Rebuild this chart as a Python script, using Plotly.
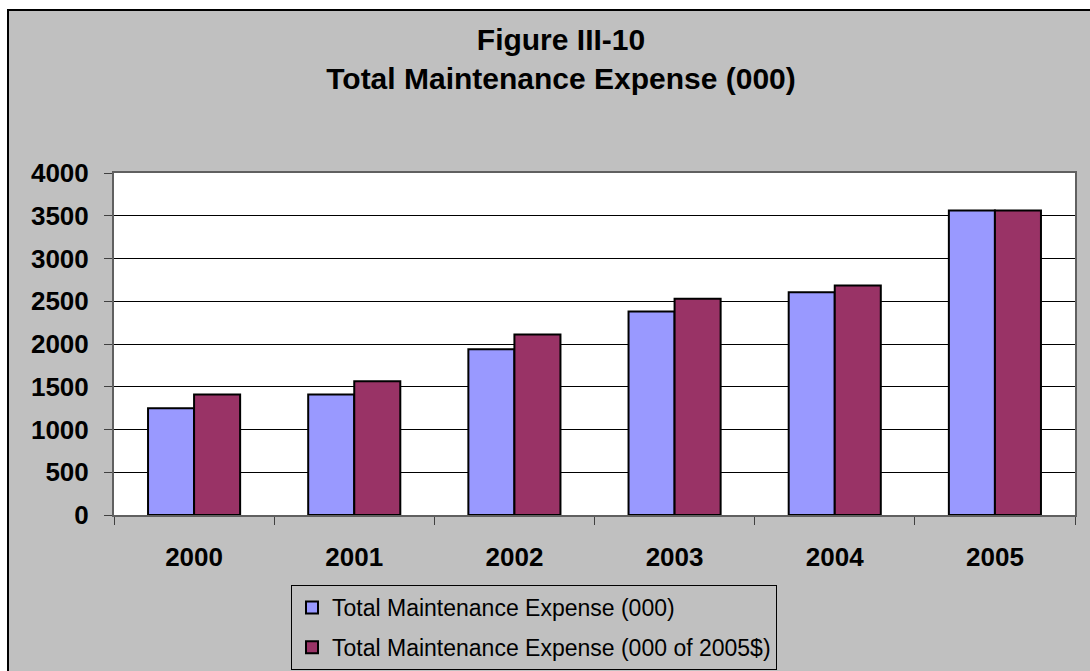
import plotly.graph_objects as go

# Maintenance expense by year, in thousands
years = ["2000", "2001", "2002", "2003", "2004", "2005"]
expense_nominal = [1250, 1410, 1940, 2380, 2605, 3560]
expense_2005_dollars = [1410, 1565, 2110, 2530, 2685, 3560]
series_names = [
    "Total Maintenance Expense (000)",
    "Total Maintenance Expense (000 of 2005$)",
]
y_ticks = [0, 500, 1000, 1500, 2000, 2500, 3000, 3500, 4000]

FONT = "Arial, Liberation Sans, sans-serif"
W, H = 1090, 671
L, R, T, B = 114, 15, 173, 156

fig = go.Figure()
fig.add_trace(go.Bar(
    x=years, y=expense_nominal, name=series_names[0],
    marker=dict(color="#9999FF", line=dict(color="black", width=2)),
    legendgroup="a",
))
fig.add_trace(go.Bar(
    x=years, y=expense_2005_dollars, name=series_names[1],
    marker=dict(color="#993366", line=dict(color="black", width=2)),
    legendgroup="b",
))

pw = W - L - R
ph = H - T - B


def px_x(x):
    return (x - L) / pw


def px_y(y):
    return (H - B - y) / ph


fig.update_layout(
    width=W, height=H,
    margin=dict(l=L, r=R, t=T, b=B, autoexpand=False),
    paper_bgcolor="#C0C0C0",
    plot_bgcolor="white",
    barmode="group",
    bargap=0.425,
    bargroupgap=0,
    font=dict(family=FONT, color="black"),
    title=dict(
        text="<b>Figure III-10<br>Total Maintenance Expense (000)</b>",
        font=dict(size=30, family=FONT, color="black"),
        x=561 / W, xanchor="center",
        y=1 - 50 / H, yanchor="middle",
        xref="container", yref="container",
    ),
    showlegend=True,
    legend=dict(
        x=px_x(291), xanchor="left",
        y=px_y(585), yanchor="top",
        bgcolor="#C0C0C0",
        bordercolor="black", borderwidth=1,
        font=dict(size=23, family=FONT, color="black"),
        traceorder="grouped",
        tracegroupgap=7,
    ),
    shapes=[
        # white margin outside the chart frame
        dict(type="rect", xref="paper", yref="paper",
             x0=px_x(-20), x1=px_x(8), y0=px_y(H + 20), y1=px_y(-20),
             fillcolor="white", line=dict(width=0), layer="below"),
        dict(type="rect", xref="paper", yref="paper",
             x0=px_x(-20), x1=px_x(W + 20), y0=px_y(10), y1=px_y(-20),
             fillcolor="white", line=dict(width=0), layer="below"),
        # chart frame
        dict(type="rect", xref="paper", yref="paper",
             x0=px_x(8), x1=px_x(W + 20), y0=px_y(H + 20), y1=px_y(10),
             fillcolor="rgba(0,0,0,0)", line=dict(color="black", width=2)),
    ],
)

fig.update_yaxes(
    range=[0, 4000],
    tickvals=y_ticks,
    ticktext=[f"<b>{v}</b>" for v in y_ticks],
    tickfont=dict(size=26, family=FONT, color="black"),
    showgrid=True, gridcolor="black", gridwidth=1,
    ticks="outside", ticklen=8, tickcolor="#404040", tickwidth=1,
    showline=True, linecolor="#606060", linewidth=2, mirror=True,
    zeroline=False,
    ticklabelstandoff=10,
    automargin=False,
    fixedrange=True,
)
fig.update_xaxes(
    type="category",
    tickvals=years,
    ticktext=[f"<b>{y}</b>" for y in years],
    tickfont=dict(size=26, family=FONT, color="black"),
    ticks="outside", ticklen=8, tickcolor="#404040", tickwidth=1,
    tickson="boundaries",
    showline=True, linecolor="#606060", linewidth=2, mirror=True,
    showgrid=False,
    ticklabelstandoff=18,
    automargin=False,
    fixedrange=True,
)

fig.write_html("out.html", config={"displayModeBar": False})
